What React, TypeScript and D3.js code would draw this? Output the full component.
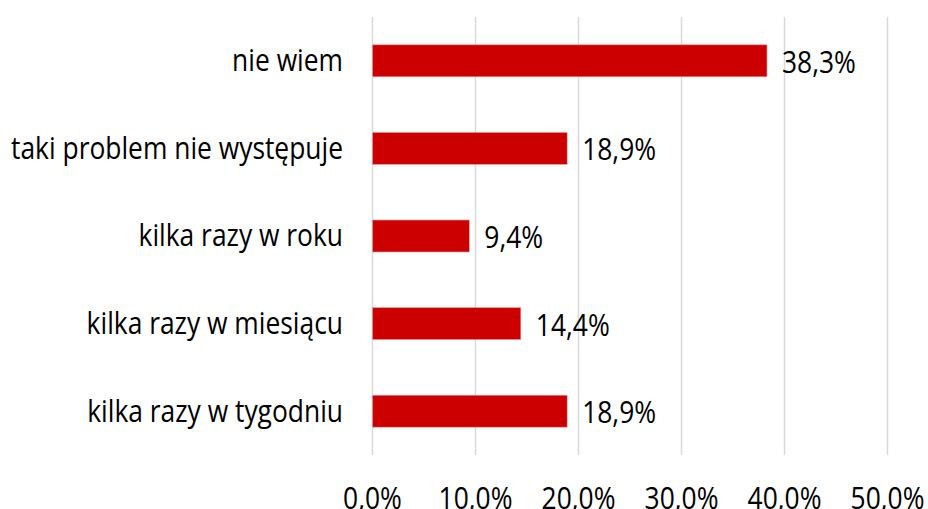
import React from "react";
import * as d3 from "d3";

const categories = ["nie wiem", "taki problem nie występuje", "kilka razy w roku", "kilka razy w miesiącu", "kilka razy w tygodniu"];
const values = [38.3, 18.9, 9.4, 14.4, 18.9];
const ticks = [0, 10, 20, 30, 40, 50];

const W = 928, H = 509;
const FONT = "'Open Sans', sans-serif";
const FS = 26.4;
const SY = 1.17;

function T({ x, y, anchor, children }: { x: number; y: number; anchor?: string; children: React.ReactNode }) {
  return (
    <g transform={`translate(${x},${y}) scale(1,${SY})`}>
      <text x={0} y={0} textAnchor={anchor ?? "start"} fontSize={FS} fill="#000">{children}</text>
    </g>
  );
}

export default function App() {
  const x = d3.scaleLinear().domain([0, 50]).range([372.5, 887.5]);
  const y = d3.scaleBand().domain(categories).range([17, 455]).paddingInner(0.635).paddingOuter(0.3175);
  const fmt = (v: number) => v.toFixed(1).replace(".", ",") + "%";
  return (
    <svg width={W} height={H} style={{ position: "absolute", left: 0, top: 0, background: "#fff" }} fontFamily={FONT}>
      {ticks.map((t) => (
        <g key={t}>
          <line x1={x(t)} x2={x(t)} y1={17} y2={455} stroke="#d9d9d9" strokeWidth={1.5} />
          <T x={x(t)} y={508.5} anchor="middle">{fmt(t)}</T>
        </g>
      ))}
      {categories.map((c, i) => {
        const yc = (y(c) as number) + y.bandwidth() / 2;
        return (
          <g key={c}>
            <rect x={x(0)} y={y(c)} width={x(values[i]) - x(0)} height={y.bandwidth()} fill="#cc0000" stroke="#e8a0a0" strokeWidth={0.6} />
            <T x={343} y={yc + 10.4} anchor="end">{c}</T>
            <T x={x(values[i]) + 15} y={yc + 12} anchor="start">{fmt(values[i])}</T>
          </g>
        );
      })}
    </svg>
  );
}
